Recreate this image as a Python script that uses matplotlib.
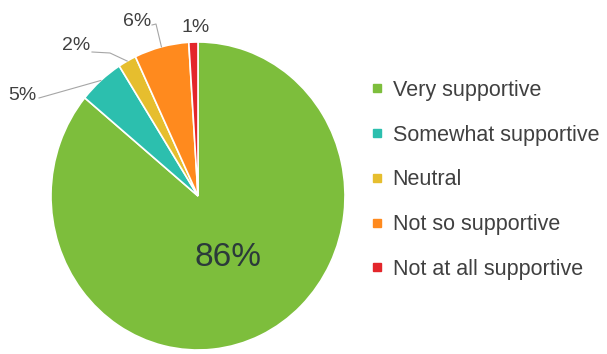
import numpy as np
import matplotlib
matplotlib.use("Agg")
import matplotlib.pyplot as plt
from matplotlib.lines import Line2D

# data
categories = ["Very supportive", "Somewhat supportive", "Neutral", "Not so supportive", "Not at all supportive"]
shares = [86, 5, 2, 6, 1]
colors = ["#7DBE3C", "#2CBFAE", "#E6BE2E", "#FF8A1E", "#E3262B"]

plt.rcParams['font.family'] = ['Liberation Sans', 'DejaVu Sans']
txt_col = "#404040"

W, H = 607, 354
cx, cy = 198, 196     # pie centre, pixels from top-left
rx, ry = 147, 154     # image is slightly stretched

fig = plt.figure(figsize=(W / 100, H / 100), dpi=100)
ax = fig.add_axes([0, 0, 1, 1])
ax.axis('off')

def px(x, y):
    '''pixel (from top-left) -> data coords'''
    return (x - cx) / rx, (cy - y) / ry

wedges, _ = ax.pie(shares, colors=colors, startangle=90, counterclock=False,
                   wedgeprops=dict(edgecolor='white', linewidth=1.2))
ax.set_aspect('auto')
ax.set_xlim(-cx / rx, (W - cx) / rx)
ax.set_ylim(-(H - cy) / ry, cy / ry)

# big label inside
w0 = wedges[0]
mid = np.deg2rad((w0.theta1 + w0.theta2) / 2)
ax.text(0.48 * np.cos(mid), 0.44 * np.sin(mid), "%d%%" % shares[0], fontsize=24,
        color="#2b3a3a", ha='center', va='center')

# outside labels with leader lines
label_pos = {1: (22, 95), 2: (76, 46), 3: (137, 21), 4: (196, 28)}
elbow = {1: None, 2: (110, 53), 3: (156, 24), 4: None}
for i, (lx, ly) in label_pos.items():
    w = wedges[i]
    a = np.deg2rad((w.theta1 + w.theta2) / 2)
    ax.text(*px(lx, ly), "%d%%" % shares[i], fontsize=14, color=txt_col,
            ha='center', va='center')
    if i == 4:
        continue
    ex, ey = np.cos(a) * 1.0, np.sin(a) * 1.0
    if elbow[i] is None:
        sx, sy = px(lx + 17, ly + 3)
        ax.plot([sx, ex], [sy, ey], color='#a6a6a6', lw=0.8)
    else:
        bx, by = px(*elbow[i])
        sx, sy = px(lx + 16, ly + 6) if i == 2 else px(lx + 15, ly + 4)
        ax.plot([sx, bx, ex], [sy, by, ey], color='#a6a6a6', lw=0.8)

handles = [Line2D([], [], marker='s', ls='', markersize=6, markerfacecolor=c,
                  markeredgecolor=c) for c in colors]
leg = fig.legend(handles, categories, loc='upper left', bbox_to_anchor=(371 / W, 1 - 80 / H),
                 frameon=False, fontsize=15.5, labelspacing=1.1, handlelength=0.6,
                 handletextpad=0.4, borderaxespad=0, borderpad=0)
for t in leg.get_texts():
    t.set_color(txt_col)

fig.savefig("out.png", dpi=100)
